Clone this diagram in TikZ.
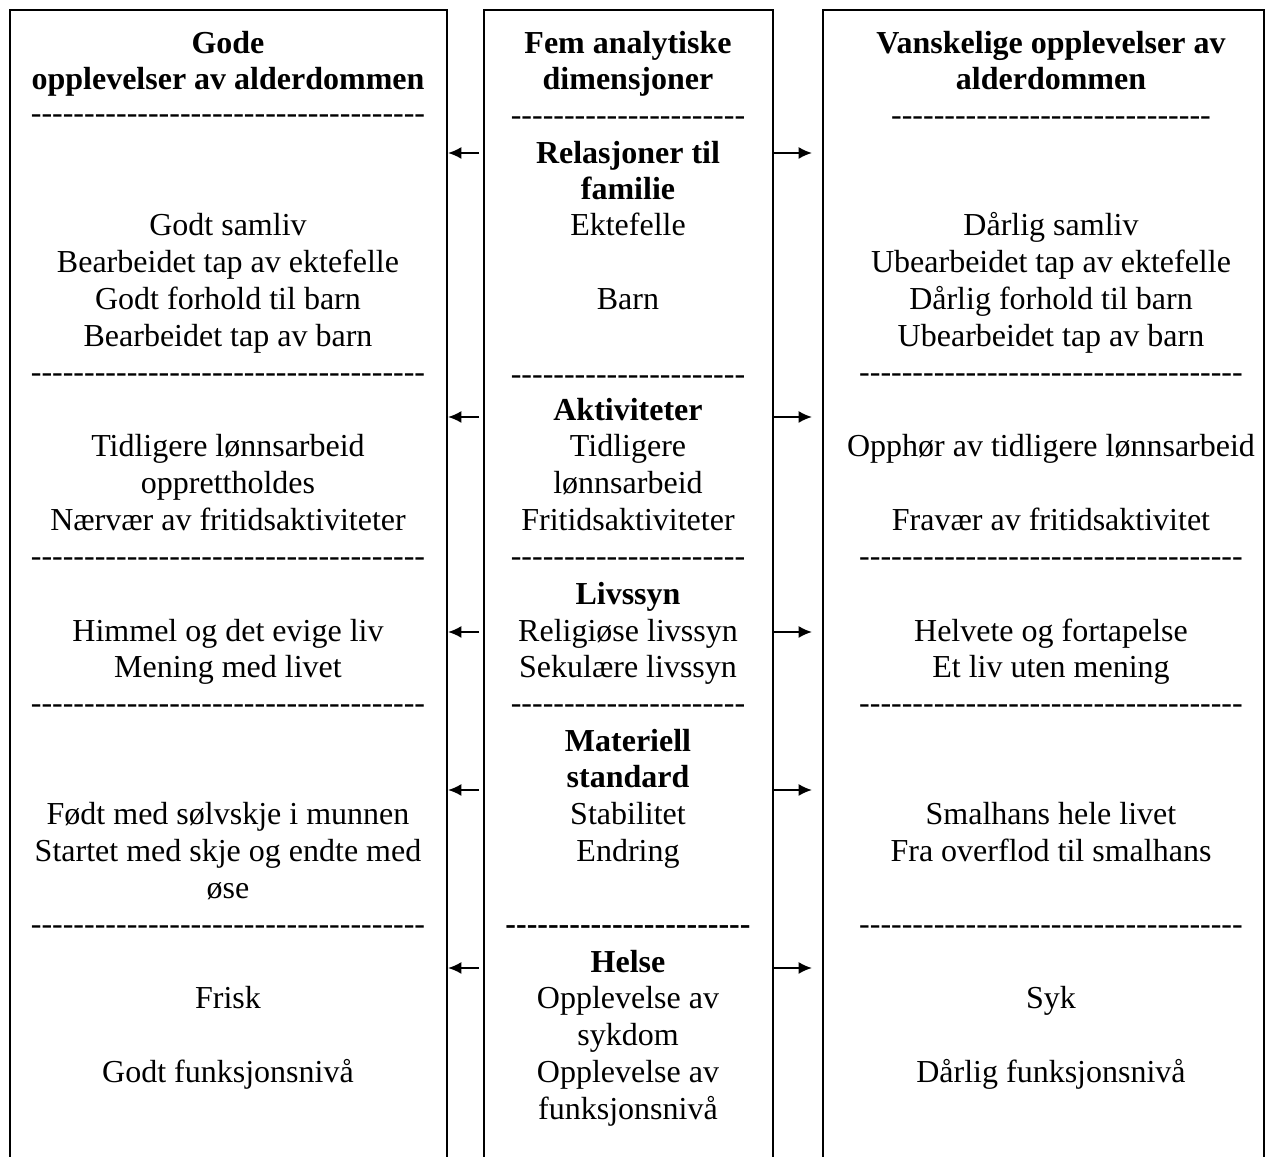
\documentclass[tikz,border=0pt]{standalone}
\usepackage{fontspec}
\setmainfont{Liberation Serif}
\usetikzlibrary{positioning, fit, arrows.meta}

\ExplSyntaxOn
\NewDocumentCommand\dashline{m}{\prg_replicate:nn{#1}{{-}}}
\ExplSyntaxOff

\begin{document}
\begin{tikzpicture}[
		x=0.375pt, y=-0.375pt,
		colbox/.style={draw, line width=0.75pt, inner sep=0pt},
		cell tx/.style={anchor=base, inner sep=0pt, font=\fontsize{12}{14}\selectfont},
		cell hd/.style={anchor=base, inner sep=0pt, font=\fontsize{12}{14}\selectfont\bfseries},
		>={Latex[length=5pt, width=4.5pt]}
	]

	\clip (0,0) rectangle (1274,1157);

	% the three columns, open at the bottom
	\node [colbox, fit={(10,10) (447,1200)}] (good) {};
	\node [colbox, fit={(484,10) (773,1200)}] (dim) {};
	\node [colbox, fit={(823,10) (1264,1200)}] (bad) {};

	\foreach \y/\s/\t [count=\i] in {42/hd/Gode, 78/hd/opplevelser av alderdommen,
			224/tx/Godt samliv, 261/tx/Bearbeidet tap av ektefelle, 298/tx/Godt forhold til barn,
			335/tx/Bearbeidet tap av barn, 445/tx/Tidligere lønnsarbeid, 482/tx/opprettholdes,
			519/tx/Nærvær av fritidsaktiviteter, 630/tx/Himmel og det evige liv, 666/tx/Mening med livet,
			813/tx/Født med sølvskje i munnen, 850/tx/Startet med skje og endte med, 887/tx/øse,
			997/tx/Frisk, 1071/tx/Godt funksjonsnivå}
		\node [cell \s] (good-\i) at (228, \y+12) {\t};

	\foreach \y/\s/\t [count=\i] in {42/hd/Fem analytiske, 78/hd/dimensjoner,
			152/hd/Relasjoner til, 188/hd/familie, 224/tx/Ektefelle, 298/tx/Barn,
			409/hd/Aktiviteter, 445/tx/Tidligere, 482/tx/lønnsarbeid, 519/tx/Fritidsaktiviteter,
			593/hd/Livssyn, 630/tx/Religiøse livssyn, 666/tx/Sekulære livssyn,
			740/hd/Materiell, 776/hd/standard, 813/tx/Stabilitet, 850/tx/Endring,
			961/hd/Helse, 997/tx/Opplevelse av, 1034/tx/sykdom, 1071/tx/Opplevelse av, 1108/tx/funksjonsnivå}
		\node [cell \s] (dim-\i) at (628, \y+12) {\t};

	\foreach \y/\s/\t [count=\i] in {42/hd/Vanskelige opplevelser av, 78/hd/alderdommen,
			224/tx/Dårlig samliv, 261/tx/Ubearbeidet tap av ektefelle, 298/tx/Dårlig forhold til barn,
			335/tx/Ubearbeidet tap av barn, 445/tx/Opphør av tidligere lønnsarbeid,
			519/tx/Fravær av fritidsaktivitet, 630/tx/Helvete og fortapelse, 666/tx/Et liv uten mening,
			813/tx/Smalhans hele livet, 850/tx/Fra overflod til smalhans,
			997/tx/Syk, 1071/tx/Dårlig funksjonsnivå}
		\node [cell \s] (bad-\i) at (1051, \y+12) {\t};

	% dashed separators
	\foreach \y [count=\i] in {113, 372, 556, 703, 924}
		\node [cell tx] (good-r\i) at (228, \y+11) {\dashline{37}};

	\foreach \y/\s/\n [count=\i] in {115/tx/22, 374/tx/22, 556/tx/22, 703/tx/22, 924/hd/23}
		\node [cell \s] (dim-r\i) at (628, \y+11) {\dashline{\n}};

	\foreach \y/\n [count=\i] in {115/30, 372/36, 556/36, 703/36, 924/36}
		\node [cell tx] (bad-r\i) at (1051, \y+11) {\dashline{\n}};

	% arrows out of the middle column
	\foreach \y in {153, 417, 632, 790, 968} {
		\draw [->, line width=0.75pt, shorten <=1.5pt] (dim.west |- 0,\y) -- (good.east |- 0,\y);
		\draw [->, line width=0.75pt, shorten >=3.75pt] (dim.east |- 0,\y) -- (bad.west |- 0,\y);
	}
\end{tikzpicture}
\end{document}
